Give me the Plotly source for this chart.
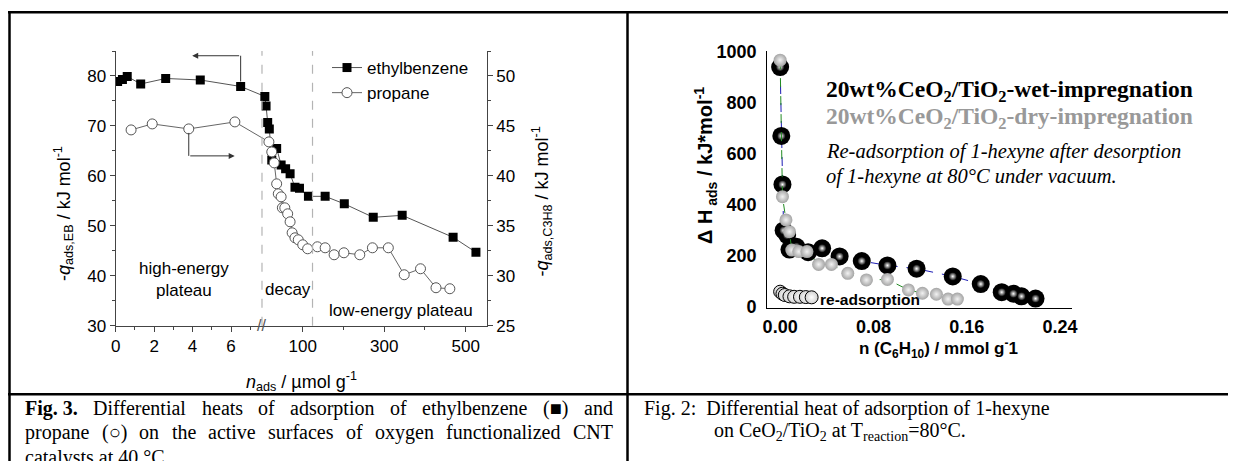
import plotly.graph_objects as go

W, H = 1236, 461
OFF = 8  # the page body margin shifts the figure by 8 px; positions below are in picture pixels
def px(x): return (x - OFF) / W
def py(y): return 1 - (y - OFF) / H

# ---------------- left chart data (Fig. 3) ----------------
# n_ads in umol/g ; plateau part (first axis segment) and decay/low-energy part (second segment)
eb_n_low = [0.1, 0.35, 0.6, 1.3, 2.6, 4.4, 6.5]
eb_q_low = [78.9, 79.3, 79.9, 78.4, 79.5, 79.2, 77.9]
eb_n_high = [7, 10, 14, 18, 24, 36, 47, 58, 69, 81, 92, 114, 155, 202, 273, 344, 469, 525]
eb_q_high = [75.9, 74.0, 70.7, 69.4, 63.2, 65.5, 62.2, 61.4, 60.4, 57.7, 57.5, 55.9, 55.9,
             54.4, 51.7, 52.1, 47.7, 44.7]

pr_n_low = [0.8, 1.9, 3.8, 6.2]
pr_q_low = [44.6, 45.2, 44.7, 45.4]
pr_n_high = [17, 24, 30, 36, 40, 47, 50, 56, 63, 69, 74, 81, 89, 100, 112, 136, 155, 177,
             201, 240, 271, 310, 349, 389, 427, 461]
pr_q_high = [43.4, 42.4, 41.3, 39.2, 38.2, 37.9, 36.8, 36.8, 36.2, 35.4, 34.3, 33.8, 33.6,
             33.1, 32.7, 32.9, 32.8, 32.1, 32.3, 32.1, 32.8, 32.8, 30.1, 30.7, 28.8, 28.7]

x_ticks_low = [0, 2, 4, 6]
x_minor_low = [1, 3, 5, 7]
x_ticks_high = [100, 300, 500]
x_minor_high = [200, 400]
decay_end = 124        # end of decay region (umol/g)

# ---------------- right chart data (Fig. 2) ----------------
wet_n = [0.000, 0.001, 0.002, 0.003, 0.006, 0.008, 0.014, 0.024, 0.036, 0.051, 0.070, 0.092,
         0.117, 0.148, 0.172, 0.190, 0.200, 0.207, 0.219]
wet_h = [940, 670, 480, 300, 282, 225, 236, 215, 230, 198, 180, 163, 150, 120, 90, 58, 52, 42, 33]
dry_n = [0.000, 0.002, 0.005, 0.008, 0.010, 0.016, 0.023, 0.033, 0.044, 0.058, 0.074, 0.092,
         0.110, 0.122, 0.134, 0.144, 0.152]
dry_h = [967, 432, 341, 295, 223, 217, 217, 167, 167, 132, 106, 108, 67, 54, 50, 31, 31]
re_n = [0.000, 0.002, 0.004, 0.008, 0.012, 0.017, 0.022, 0.027]
re_h = [60, 52, 47, 42, 40, 40, 39, 38]
r_xticks = [0, 0.08, 0.16, 0.24]
r_xlabels = ["0.00", "0.08", "0.16", "0.24"]
r_yticks = [0, 200, 400, 600, 800, 1000]

# ---------------- broken x-axis mapping ----------------
BRK = 7.61          # first segment covers 0..BRK
K = 0.0212          # scale of second segment relative to first
XMAX = 19.30
def seg2(v): return BRK + v * K
def seg2l(vs): return [seg2(v) for v in vs]

SANS = "Liberation Sans"
SERIF = "Liberation Serif"
AX = "#444"

fig = go.Figure()

# ethylbenzene (left axis)
fig.add_trace(go.Scatter(
    x=eb_n_low + seg2l(eb_n_high), y=eb_q_low + eb_q_high, mode="lines+markers",
    name="ethylbenzene", line=dict(color="#555", width=1),
    marker=dict(symbol="square", size=9, color="black"), xaxis="x", yaxis="y"))
# propane (right axis)
fig.add_trace(go.Scatter(
    x=pr_n_low + seg2l(pr_n_high), y=pr_q_low + pr_q_high, mode="lines+markers",
    name="propane", line=dict(color="#666", width=1),
    marker=dict(symbol="circle", size=10, color="white", line=dict(color="#555", width=1)),
    xaxis="x", yaxis="y2"))

# right chart traces
fig.add_trace(go.Scatter(
    x=wet_n, y=wet_h, mode="lines+markers", showlegend=False,
    line=dict(color="#1c1cb4", width=1, dash="dash"),
    marker=dict(size=18, color="black"), xaxis="x3", yaxis="y3"))
fig.add_trace(go.Scatter(
    x=wet_n, y=wet_h, mode="markers", showlegend=False,
    marker=dict(size=8, color="#111", gradient=dict(type="radial", color="white")),
    xaxis="x3", yaxis="y3"))
fig.add_trace(go.Scatter(
    x=dry_n, y=dry_h, mode="lines+markers", showlegend=False,
    line=dict(color="#228b22", width=1, dash="dash"),
    marker=dict(size=13, color="#a4a4a4", gradient=dict(type="radial", color="#f2f2f2")),
    xaxis="x3", yaxis="y3"))
fig.add_trace(go.Scatter(
    x=re_n, y=re_h, mode="markers", showlegend=False,
    marker=dict(size=13, color="#d0d0d0", gradient=dict(type="radial", color="white"),
                line=dict(color="black", width=1)),
    xaxis="x3", yaxis="y3"))

tf = dict(family=SANS, size=17, color="black")
tfb = dict(family=SANS, size=18, color="black", weight="bold")

fig.update_layout(
    width=W, height=H, margin=dict(l=0, r=0, t=0, b=0, autoexpand=False),
    paper_bgcolor="white", plot_bgcolor="rgba(0,0,0,0)",
    showlegend=True,
    legend=dict(x=px(327), y=py(50), xanchor="left", yanchor="top",
                bgcolor="rgba(0,0,0,0)", font=dict(family=SANS, size=17, color="black"),
                tracegroupgap=0),
    xaxis=dict(domain=[px(115.7), px(486.7)], range=[0, XMAX], anchor="y",
               showline=True, linecolor=AX, linewidth=1.2, showgrid=False, zeroline=False,
               ticks="outside", ticklen=5, tickcolor=AX,
               tickvals=x_ticks_low + seg2l(x_ticks_high),
               ticktext=[str(v) for v in x_ticks_low + x_ticks_high],
               minor=dict(tickvals=x_minor_low + seg2l(x_minor_high), ticks="outside",
                          ticklen=3, tickcolor=AX),
               tickfont=tf),
    yaxis=dict(domain=[py(325.7), py(51)], range=[30, 85], anchor="x",
               showline=True, linecolor=AX, linewidth=1.2, showgrid=False, zeroline=False,
               ticks="outside", ticklen=5, tickcolor=AX, tickvals=[30, 40, 50, 60, 70, 80],
               minor=dict(dtick=5, tick0=30, ticks="outside", ticklen=3, tickcolor=AX),
               tickfont=tf),
    yaxis2=dict(overlaying="y", side="right", range=[25, 52.5], anchor="x",
                showline=True, linecolor=AX, linewidth=1.2, showgrid=False, zeroline=False,
                ticks="outside", ticklen=5, tickcolor=AX, tickvals=[25, 30, 35, 40, 45, 50],
                minor=dict(dtick=2.5, tick0=25, ticks="outside", ticklen=3, tickcolor=AX),
                tickfont=tf),
    xaxis3=dict(domain=[px(767.3), px(1071.7)], range=[-0.011, 0.25], anchor="y3",
                showline=True, linecolor="black", linewidth=1.3, showgrid=False, zeroline=False,
                ticks="", tickvals=r_xticks, ticktext=r_xlabels, tickfont=tfb,
                ticklabelstandoff=2),
    yaxis3=dict(domain=[py(308.3), py(50.5)], range=[-5, 1004.7], anchor="x3",
                showline=True, linecolor="black", linewidth=1.3, showgrid=False, zeroline=False,
                ticks="", tickvals=r_yticks, tickfont=tfb, ticklabelstandoff=6),
)

shapes = []
# region boundary dashed lines
for xv in [BRK, seg2(decay_end)]:
    shapes.append(dict(type="line", xref="x", yref="y domain", x0=xv, x1=xv, y0=0, y1=1,
                       line=dict(color="#b4b4b4", width=1.2, dash="dash")))
# arrow stems
shapes.append(dict(type="line", xref="x", yref="y", x0=eb_n_low[-1], x1=eb_n_low[-1],
                   y0=eb_q_low[-1] + 1, y1=84.05, line=dict(color="#333", width=1)))
shapes.append(dict(type="line", xref="x", yref="y", x0=pr_n_low[2], x1=pr_n_low[2],
                   y0=68.6, y1=64.0, line=dict(color="#333", width=1)))
# table borders
LW = 2.5
shapes += [
    dict(type="line", xref="paper", yref="paper", x0=px(8), x1=1, y0=py(12.3), y1=py(12.3),
         line=dict(color="black", width=LW)),
    dict(type="line", xref="paper", yref="paper", x0=px(8), x1=1, y0=py(394.3), y1=py(394.3),
         line=dict(color="black", width=LW)),
    dict(type="line", xref="paper", yref="paper", x0=px(9.5), x1=px(9.5), y0=py(11), y1=0,
         line=dict(color="black", width=LW)),
    dict(type="line", xref="paper", yref="paper", x0=px(627.5), x1=px(627.5), y0=py(11), y1=0,
         line=dict(color="black", width=LW)),
]
fig.update_layout(shapes=shapes)

ann = []
def A(text, x, y, size, xanchor="center", yanchor="middle", family=SANS, color="black",
      angle=0, weight="normal", style="normal"):
    ann.append(dict(text=text, x=px(x), y=py(y), xref="paper", yref="paper",
                    xanchor=xanchor, yanchor=yanchor, showarrow=False, textangle=angle,
                    borderpad=0,
                    font=dict(family=family, size=size, color=color, weight=weight,
                              style=style)))

# arrows (data coordinates)
ann.append(dict(x=3.98, y=84.05, ax=eb_n_low[-1], ay=84.05, xref="x", yref="y", axref="x",
                ayref="y", text="", showarrow=True, arrowhead=2, arrowsize=1.2, arrowwidth=1,
                arrowcolor="#333", standoff=0, startstandoff=0))
ann.append(dict(x=6.19, y=64.0, ax=pr_n_low[2], ay=64.0, xref="x", yref="y", axref="x",
                ayref="y", text="", showarrow=True, arrowhead=2, arrowsize=1.2, arrowwidth=1,
                arrowcolor="#333", standoff=0, startstandoff=0))
# axis break mark
ann.append(dict(x=BRK, y=30, xref="x", yref="y", text="//", showarrow=False,
                font=dict(family=SANS, size=16, color="#555")))

# left chart texts
A("high-energy<br>plateau", 184, 279, 17)
A("decay", 264, 289, 17, xanchor="left")
A("low-energy plateau", 474, 310.5, 17, xanchor="right")
A("-<i>q</i><sub>ads,EB</sub> / kJ mol<sup>-1</sup>", 63, 214, 18, angle=-90)
A("-<i>q</i><sub>ads,C3H8</sub> / kJ mol<sup>-1</sup>", 541.5, 202, 18, angle=-90)
A("<i>n</i><sub>ads</sub> / µmol g<sup>-1</sup>", 301, 381, 18)

# right chart texts
A("20wt%CeO<sub>2</sub>/TiO<sub>2</sub>-wet-impregnation", 825, 91, 23.5, xanchor="left",
  family=SERIF, weight="bold")
A("20wt%CeO<sub>2</sub>/TiO<sub>2</sub>-dry-impregnation", 825, 118, 23.5, xanchor="left",
  family=SERIF, weight="bold", color="#999999")
A("Re-adsorption of 1-hexyne after desorption", 825, 151.5, 20.5, xanchor="left",
  family=SERIF, style="italic")
A("of 1-hexyne at 80°C under vacuum.", 825, 176.5, 20.5, xanchor="left",
  family=SERIF, style="italic")
A("re-adsorption", 819, 299, 15.5, xanchor="left", weight="bold")
A("Δ H<sub> ads</sub> / kJ*mol<sup>-1</sup>", 705, 166, 20, angle=-90, weight="bold")
A("n (C<sub>6</sub>H<sub>10</sub>) / mmol g<sup>-</sup>1", 938, 348, 17, weight="bold")

# right caption
A("Fig. 2:  Differential heat of adsorption of 1-hexyne", 642.7, 408, 20, xanchor="left",
  family=SERIF)
A("on CeO<sub>2</sub>/TiO<sub>2</sub> at T<sub>reaction</sub>=80°C.", 712.7, 431, 20,
  xanchor="left", family=SERIF)

# left caption: justified lines built word by word (Times metrics, 1/1000 em)
TW = {' ': 250, 'a': 444, 'b': 500, 'c': 444, 'd': 500, 'e': 444, 'f': 333, 'g': 500,
      'h': 500, 'i': 278, 'j': 278, 'k': 500, 'l': 278, 'm': 778, 'n': 500, 'o': 500,
      'p': 500, 'q': 500, 'r': 333, 's': 389, 't': 278, 'u': 500, 'v': 500, 'w': 722,
      'x': 500, 'y': 500, 'z': 444, 'C': 667, 'D': 722, 'F': 556, 'N': 722, 'T': 611,
      '(': 333, ')': 333, '.': 250, '3': 500, '■': 604, '○': 604}
TWB = {'F': 611, 'i': 278, 'g': 500, '.': 250, ' ': 250, '3': 500}
CAP = 20
def width(s, bold=False):
    tbl = TWB if bold else TW
    return sum(tbl.get(ch, 500) for ch in s) * CAP / 1000.0

def justified(words, x0, x1, ybase):
    ws = [width(w.replace("<b>", "").replace("</b>", ""), "<b>" in w) for w in words]
    gap = (x1 - x0 - sum(ws)) / (len(words) - 1)
    x = x0
    for w, wd in zip(words, ws):
        A(w, x, ybase - 7, CAP, xanchor="left", family=SERIF)
        x += wd + gap

justified(["<b>Fig. 3.</b>", "Differential", "heats", "of", "adsorption", "of",
           "ethylbenzene", "(■)", "and"], 24, 612, 415)
justified(["propane", "(○)", "on", "the", "active", "surfaces", "of", "oxygen",
           "functionalized", "CNT"], 24, 612, 439)
A("catalysts at 40 °C.", 24, 457, CAP, xanchor="left", family=SERIF)

fig.update_layout(annotations=ann)
fig.write_html("out.html")
